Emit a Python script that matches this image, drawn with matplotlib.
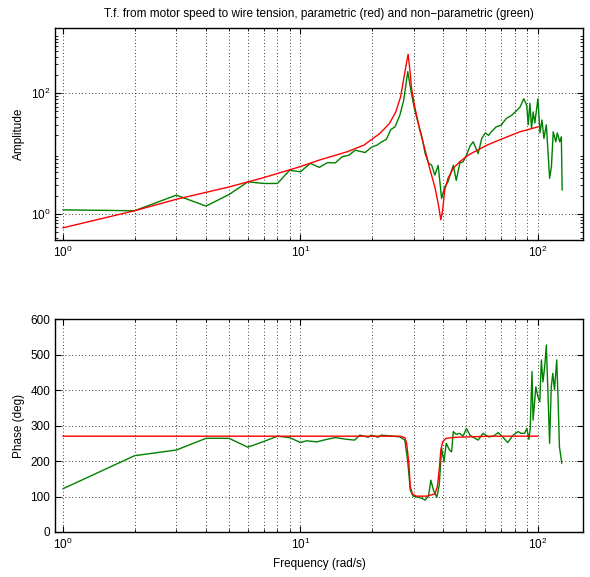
import numpy as np
import matplotlib
matplotlib.use("Agg")
import matplotlib.pyplot as plt
from matplotlib.ticker import LogLocator, NullFormatter

plt.rcParams['font.family'] = ['Liberation Sans', 'DejaVu Sans']
plt.rcParams['font.size'] = 8.5

# non-parametric estimate (green), amplitude
f_amp_meas = [1, 2, 3, 4, 5, 6, 7, 8, 9, 10, 11, 12, 13, 14, 15, 16, 17, 18.7, 20, 21, 22, 23,
              24, 25, 26.2, 27.2, 28.3, 29.3, 30.3, 31.3, 32.4, 33.5, 34.6, 35.7, 36.8, 38,
              39.3, 40.5, 41.8, 44, 45.3, 46.9, 48.4, 50, 51.8, 53.4, 56, 58, 60, 62, 63.7,
              66.7, 70, 73.5, 77.5, 81.5, 84.1, 87.2, 89.7, 91, 92.5, 94, 95.5, 97, 100,
              102, 104, 106, 108.5, 112, 114, 116, 118.9, 120.7, 123.6, 125.5, 126.5]
amp_meas = [1.17, 1.13, 2.05, 1.35, 2.1, 3.4, 3.2, 3.2, 5.3, 5.0, 6.9, 5.9, 7.1, 7.0, 8.9, 9.4,
            11.4, 10.4, 12.9, 13.8, 15.7, 17.2, 25, 27.7, 43, 76, 228, 100, 52, 32, 19.5, 10,
            7.0, 6.4, 4.4, 6.4, 1.8, 2.8, 3.4, 6.4, 3.6, 7.0, 7.3, 9.4, 13.5, 15.7, 10, 17.8,
            22, 20, 23, 27.7, 29.6, 38, 43, 52, 59, 81, 63, 30, 68, 26, 49, 32, 81,
            22, 36, 17.8, 30, 3.9, 6.1, 23, 15.7, 22, 15.7, 19, 2.5]

# non-parametric estimate (green), phase
f_ph_meas = [1, 2, 3, 4, 5, 6, 7, 8, 9, 10, 10.6, 11.7, 12.9, 14, 15.7, 16.9, 17.8, 19.3, 19.9,
             21.2, 21.9, 24.6, 26.2, 27.5, 28.3, 29, 29.8, 31.3, 32.4, 33.5, 34.6, 35.4, 36.3,
             37.5, 38.4, 39.3, 40.2, 41.1, 42.4, 43.3, 44, 45.3, 46.8, 48.4, 50, 51.7, 53.4,
             56, 58.7, 61.9, 64.9, 68, 71.3, 74.6, 78.6, 82.5, 85, 87.9, 89.8, 91.6, 92.8,
             94.4, 95.4, 98, 100, 101.8, 103.4, 105, 106.8, 108.5, 110, 112, 113.8, 115.5,
             117.4, 120, 121.6, 123.2, 124.3, 126]
ph_meas = [122, 215, 231, 264, 264, 239, 255, 270, 266, 252, 257, 254, 261, 266, 261, 259, 273,
           267, 273, 267, 273, 270, 268, 259, 198, 118, 101, 98, 95, 90, 101, 146, 118,
           98, 132, 236, 198, 250, 231, 226, 283, 275, 278, 270, 292, 273, 267,
           259, 278, 268, 270, 280, 267, 252, 273, 283, 278, 278, 292, 261, 292,
           452, 315, 409, 381, 367, 485, 423, 466, 527, 409, 250, 409, 447,
           400, 485, 372, 240, 222, 194]

# parametric model (red)
f_model = [1, 2, 3, 5, 7, 10, 12, 15.7, 18.5, 21.6, 23.7, 25.2, 26.4, 27.3, 28.0, 28.4, 29,
           29.3, 30.3, 31.8, 33.5, 35, 36.8, 38, 39, 39.7, 40.5, 41.8, 44, 46.8, 51,
           61, 71.3, 84.1, 100]
amp_model = [0.59, 1.13, 1.75, 2.8, 4.0, 6.1, 7.8, 10.7, 13.8, 21.6, 31.6, 49, 87, 186, 330,
             440, 213, 127, 59, 24.5, 11.4, 5.7, 2.8, 1.5, 0.8, 1.16, 2.5, 3.9, 5.7, 7.3, 9.5,
             13.8, 17.8, 23, 27.7]
f_ph_model = [1, 10, 26.2, 27.5, 28.0, 28.6, 29.0, 29.6, 30.8, 34, 36.8, 37.7, 38.4, 39.0,
              39.7, 41, 45.3, 63, 100]
ph_model = [270, 270, 270, 266, 250, 194, 128, 107, 101, 101, 107, 128, 175, 231, 254, 264,
            267, 270, 270]

red = (1, 0, 0)
green = (0, 0.5, 0)

fig = plt.figure(figsize=(5.9, 5.77), dpi=100)
ax1 = fig.add_axes([0.0932, 0.584, 0.895, 0.367])
ax2 = fig.add_axes([0.0932, 0.078, 0.895, 0.369])

ax1.loglog(f_amp_meas, amp_meas, color=green, lw=1)
ax1.loglog(f_model, amp_model, color=red, lw=1)
ax1.set_ylim(0.37, 1190)
ax1.set_yticks([1, 100])
ax1.yaxis.set_minor_locator(LogLocator(base=10, subs=np.arange(2, 10), numticks=20))
ax1.yaxis.set_minor_formatter(NullFormatter())
ax1.set_ylabel('Amplitude')
ax1.set_title('T.f. from motor speed to wire tension, parametric (red) and non\u2212parametric (green)',
              fontsize=8.5, pad=8)

ax2.semilogx(f_ph_meas, ph_meas, color=green, lw=1)
ax2.semilogx(f_ph_model, ph_model, color=red, lw=1)
ax2.set_ylim(0, 600)
ax2.set_yticks(np.arange(0, 601, 100))
ax2.set_ylabel('Phase (deg)')
ax2.set_xlabel('Frequency (rad/s)')

for ax in (ax1, ax2):
    ax.set_xlim(10 ** -0.034, 10 ** 2.19)
    ax.xaxis.set_minor_locator(LogLocator(base=10, subs=np.arange(2, 10), numticks=20))
    ax.xaxis.set_minor_formatter(NullFormatter())
    ax.grid(True, which='major', axis='both', color='k', ls=(0, (1, 3)), lw=0.6)
    ax.grid(True, which='minor', axis='x', color='k', ls=(0, (1, 3)), lw=0.6)
    ax.tick_params(which='both', direction='in', top=True, right=True)
    ax.tick_params(which='major', length=4)
    ax.tick_params(which='minor', length=2)
    for s in ax.spines.values():
        s.set_linewidth(1.0)

fig.savefig('out.png', dpi=100)
